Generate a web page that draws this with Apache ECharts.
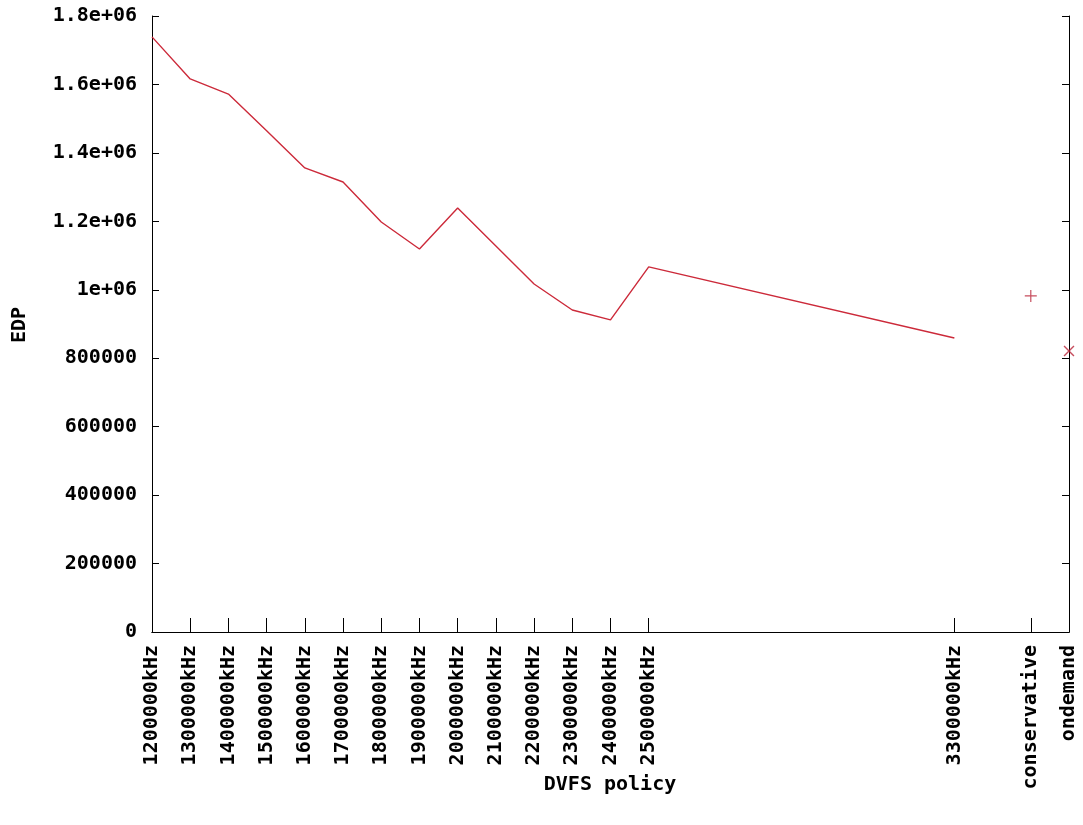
<!DOCTYPE html>
<html>
<head>
<meta charset="utf-8">
<script src="https://cdn.jsdelivr.net/npm/echarts@6/dist/echarts.min.js"></script>
<style>html,body{margin:0;padding:0;background:#fff}#c{width:1083px;height:825px}</style>
</head>
<body>
<div id="c"></div>
<script>
// Data
const freqX = [1200000,1300000,1400000,1500000,1600000,1700000,1800000,1900000,2000000,2100000,2200000,2300000,2400000,2500000,3300000];
const edpValues = [1739000,1616000,1572000,1465000,1356000,1315000,1198000,1119000,1239000,1128000,1017000,941000,912000,1067000,859000];
const conservativeX = 3500000;
const conservativeEDP = 982000;
const ondemandX = 3600000;
const ondemandEDP = 821000;
const xTickValues = [1200000,1300000,1400000,1500000,1600000,1700000,1800000,1900000,2000000,2100000,2200000,2300000,2400000,2500000,3300000,3500000,3600000];
const xTickLabels = ['1200000kHz','1300000kHz','1400000kHz','1500000kHz','1600000kHz','1700000kHz','1800000kHz','1900000kHz','2000000kHz','2100000kHz','2200000kHz','2300000kHz','2400000kHz','2500000kHz','3300000kHz','conservative','ondemand'];
const yTickLabels = {0:'0',200000:'200000',400000:'400000',600000:'600000',800000:'800000',1000000:'1e+06',1200000:'1.2e+06',1400000:'1.4e+06',1600000:'1.6e+06',1800000:'1.8e+06'};

const RED = '#cc2a3a';
const MARK = '#b82035';
const FONT = 'DejaVu Sans Mono';
const FS = 20;
const TL = 7;
const lineData = freqX.map((x, i) => [x, edpValues[i]]);
const plusPath = 'path://M0,4.5h10v1h-10z M4.5,0h1v10h-1z';

const X_RANGE = {type: 'value', min: 1200000, max: 3600000, splitLine: {show: false}};
const Y_RANGE = {type: 'value', min: 0, max: 1800000, interval: 200000, splitLine: {show: false}};
const LINE = {show: true, lineStyle: {color: '#000', width: 1}};

// frame axes (lines + labels) and inward tick axes (shifted inside by tick length)
function xFrame(pos, labels) {
  return Object.assign({}, X_RANGE, {
    position: pos, axisLine: LINE, axisTick: {show: false},
    axisLabel: labels ? {
      customValues: xTickValues, rotate: 90, margin: 13,
      fontFamily: FONT, fontWeight: 'bold', fontSize: FS, color: '#000',
      formatter: v => { const i = xTickValues.indexOf(v); return i >= 0 ? xTickLabels[i] : ''; }
    } : {show: false}
  });
}
function xTicks(pos) {
  return Object.assign({}, X_RANGE, {
    position: pos, offset: -TL, axisLine: {show: false},
    axisTick: {show: true, customValues: xTickValues, length: TL, lineStyle: {color: '#000', width: 1}},
    axisLabel: {show: false}
  });
}
function yFrame(pos, labels) {
  return Object.assign({}, Y_RANGE, {
    position: pos, axisLine: LINE, axisTick: {show: false},
    axisLabel: labels ? {margin: 15, fontFamily: FONT, fontWeight: 'bold', fontSize: FS, color: '#000',
      formatter: v => yTickLabels[v] !== undefined ? yTickLabels[v] : ''} : {show: false}
  });
}
function yTicks(pos) {
  return Object.assign({}, Y_RANGE, {
    position: pos, offset: -TL, axisLine: {show: false},
    axisTick: {show: true, length: TL, lineStyle: {color: '#000', width: 1}},
    axisLabel: {show: false}
  });
}

const chart = echarts.init(document.getElementById('c'));
chart.setOption({
  animation: false,
  grid: {left: 152, right: 14, top: 16, bottom: 193},
  xAxis: [xFrame('bottom', true), xFrame('top', false), xTicks('bottom'), xTicks('top')],
  yAxis: [yFrame('left', true), yFrame('right', false), yTicks('left'), yTicks('right')],
  graphic: [
    {type: 'text', x: 20, y: 325, rotation: Math.PI / 2,
     style: {text: 'EDP', fontFamily: FONT, fontWeight: 'bold', fontSize: FS, fill: '#000', textAlign: 'center', textVerticalAlign: 'middle'}},
    {type: 'text', x: 610, y: 785,
     style: {text: 'DVFS policy', fontFamily: FONT, fontWeight: 'bold', fontSize: FS, fill: '#000', textAlign: 'center', textVerticalAlign: 'middle'}}
  ],
  series: [{
    type: 'line', xAxisIndex: 0, yAxisIndex: 0, data: lineData, showSymbol: false, symbol: 'none',
    lineStyle: {color: RED, width: 1.4}, itemStyle: {color: RED}
  }, {
    type: 'scatter', xAxisIndex: 0, yAxisIndex: 0, data: [[conservativeX, conservativeEDP]], symbol: plusPath, symbolSize: 12,
    itemStyle: {color: MARK}
  }, {
    type: 'scatter', xAxisIndex: 0, yAxisIndex: 0, data: [[ondemandX, ondemandEDP]], symbol: plusPath, symbolSize: 14, symbolRotate: 45,
    itemStyle: {color: MARK}
  }]
});
</script>
</body>
</html>
